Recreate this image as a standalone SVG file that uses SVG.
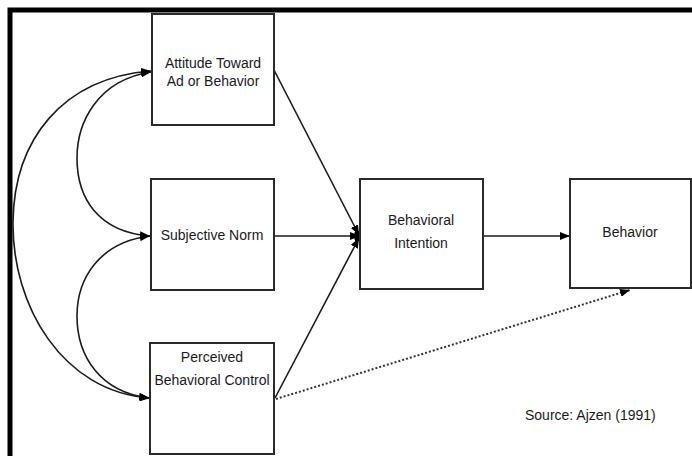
<svg xmlns="http://www.w3.org/2000/svg" width="692" height="456" viewBox="0 0 692 456">
  <style>
    .box { fill: #ffffff; stroke: #2a2a2a; stroke-width: 2; }
    .lbl { font-family: "Liberation Sans", Arial, sans-serif; font-size: 14px; fill: #1a1a1a; text-anchor: middle; }
    .edge { fill: none; stroke: #1a1a1a; stroke-width: 1.6; }
    .dot { fill: none; stroke: #333333; stroke-width: 2; stroke-dasharray: 2 2; }
  </style>
  <defs>
    <marker id="head" viewBox="0 0 10 8" refX="10" refY="4" markerWidth="10" markerHeight="8" markerUnits="userSpaceOnUse" orient="auto-start-reverse">
      <path d="M0,0 L10,4 L0,8 Z" fill="#000000"/>
    </marker>
  </defs>

  <rect width="692" height="456" fill="#ffffff"/>

  <!-- outer frame (top and left edges) -->
  <path d="M10,456 L10,10 L692,10" fill="none" stroke="#000000" stroke-width="5"/>

  <g id="connectors">
    <!-- correlations among the three predictors -->
    <path class="edge" d="M151,71 C62,78 14,140 13,222 C12,305 62,392 150,398" marker-start="url(#head)" marker-end="url(#head)"/>
    <path class="edge" d="M151,72 C98,80 77,122 77,158 C77,198 98,232 150,236" marker-start="url(#head)" marker-end="url(#head)"/>
    <path class="edge" d="M150,236 C100,242 77,278 77,316 C77,356 100,392 149,398" marker-start="url(#head)" marker-end="url(#head)"/>
    <!-- predictors to intention -->
    <path class="edge" d="M274,70 L359,235" marker-end="url(#head)"/>
    <path class="edge" d="M274,236 L360,236" marker-end="url(#head)"/>
    <path class="edge" d="M275,398 L359,238" marker-end="url(#head)"/>
    <ellipse cx="357" cy="236" rx="3" ry="6" fill="#000000"/>
    <!-- intention to behavior -->
    <path class="edge" d="M483,236 L570,236" marker-end="url(#head)"/>
    <!-- direct control path -->
    <path class="dot" d="M276,399 L630,290" marker-end="url(#head)"/>
  </g>

  <g id="attitude">
    <rect class="box" x="152" y="14" width="122" height="111"/>
    <text class="lbl" x="213" y="68">Attitude Toward</text>
    <text class="lbl" x="213" y="86">Ad or Behavior</text>
  </g>

  <g id="subjective-norm">
    <rect class="box" x="151" y="179" width="123" height="111"/>
    <text class="lbl" x="212" y="240">Subjective Norm</text>
  </g>

  <g id="perceived-control">
    <rect class="box" x="150" y="343" width="124" height="111"/>
    <text class="lbl" x="212" y="362">Perceived</text>
    <text class="lbl" x="212" y="385">Behavioral Control</text>
  </g>

  <g id="intention">
    <rect class="box" x="360" y="179" width="123" height="110"/>
    <text class="lbl" x="421" y="225">Behavioral</text>
    <text class="lbl" x="421" y="248">Intention</text>
  </g>

  <g id="behavior">
    <rect class="box" x="570" y="179" width="121" height="109"/>
    <text class="lbl" x="630" y="237">Behavior</text>
  </g>

  <text x="525" y="420" font-family="'Liberation Sans', Arial, sans-serif" font-size="14px" fill="#1a1a1a">Source:  Ajzen (1991)</text>
</svg>
